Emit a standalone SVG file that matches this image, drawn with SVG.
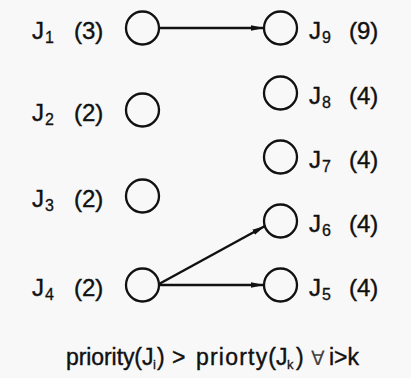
<svg xmlns="http://www.w3.org/2000/svg" width="411" height="378" viewBox="0 0 411 378">
<style>
.n{fill:none;stroke:#111;stroke-width:2.3}
.t{font-family:"Liberation Sans",Arial,sans-serif;font-size:24px;fill:#111;stroke:#111;stroke-width:0.4}
.s{font-family:"Liberation Sans",Arial,sans-serif;font-size:16px;fill:#111;stroke:#111;stroke-width:0.3}
.c{font-family:"Liberation Sans",Arial,sans-serif;font-size:23px;fill:#111;stroke:#111;stroke-width:0.4}
.e{stroke:#111;stroke-width:2.5;fill:none}
</style>
<defs>
<marker id="ah" markerUnits="userSpaceOnUse" markerWidth="14" markerHeight="8" refX="13" refY="4" orient="auto">
<path d="M0,1.2 L13,4 L0,6.8 Z" fill="#111"/>
</marker>
</defs>
<rect width="411" height="378" fill="#f8f8f8"/>
<g id="connectors">
<line class="e" x1="159" y1="28" x2="264" y2="28" marker-end="url(#ah)"/>
<line class="e" x1="159" y1="284" x2="265" y2="226" marker-end="url(#ah)"/>
<line class="e" x1="159" y1="285" x2="264" y2="285" marker-end="url(#ah)"/>
</g>
<g id="J1"><circle class="n" cx="142.5" cy="28" r="16.5"/><text class="t" x="32" y="39">J</text><text class="s" x="45" y="43">1</text><text class="t" x="74" y="39">(3)</text></g>
<g id="J2"><circle class="n" cx="142.5" cy="110" r="16.5"/><text class="t" x="32" y="121">J</text><text class="s" x="45" y="125">2</text><text class="t" x="74" y="121">(2)</text></g>
<g id="J3"><circle class="n" cx="142.5" cy="196" r="16.5"/><text class="t" x="32" y="207">J</text><text class="s" x="45" y="211">3</text><text class="t" x="74" y="207">(2)</text></g>
<g id="J4"><circle class="n" cx="142.5" cy="285" r="16.5"/><text class="t" x="32" y="296">J</text><text class="s" x="45" y="300">4</text><text class="t" x="74" y="296">(2)</text></g>
<g id="J9"><circle class="n" cx="280.5" cy="28" r="16.5"/><text class="t" x="309" y="39">J</text><text class="s" x="322" y="43">9</text><text class="t" x="349" y="39">(9)</text></g>
<g id="J8"><circle class="n" cx="280.5" cy="93" r="16.5"/><text class="t" x="309" y="104">J</text><text class="s" x="322" y="108">8</text><text class="t" x="349" y="104">(4)</text></g>
<g id="J7"><circle class="n" cx="280.5" cy="157" r="16.5"/><text class="t" x="309" y="168">J</text><text class="s" x="322" y="172">7</text><text class="t" x="349" y="168">(4)</text></g>
<g id="J6"><circle class="n" cx="280.5" cy="221" r="16.5"/><text class="t" x="309" y="232">J</text><text class="s" x="322" y="236">6</text><text class="t" x="349" y="232">(4)</text></g>
<g id="J5"><circle class="n" cx="280.5" cy="285" r="16.5"/><text class="t" x="309" y="296">J</text><text class="s" x="322" y="300">5</text><text class="t" x="349" y="296">(4)</text></g>
<g id="caption">
<text class="c" x="66" y="365" textLength="76" lengthAdjust="spacing">priority(</text>
<text class="c" x="142" y="365">J</text>
<text class="s" x="153" y="369" style="font-size:13px">i</text>
<text class="c" x="157" y="365">)</text>
<text class="c" x="172" y="365">&gt;</text>
<text class="c" x="196" y="365" textLength="80" lengthAdjust="spacing">priorty(</text>
<text class="c" x="276" y="365">J</text>
<text class="s" x="287" y="369" style="font-size:13px">k</text>
<text class="c" x="296" y="365">)</text>
<text class="c" x="311" y="365" style="font-size:20px;fill:#444;stroke:none">∀</text>
<text class="c" x="329" y="365">i&gt;k</text>
</g>
</svg>
